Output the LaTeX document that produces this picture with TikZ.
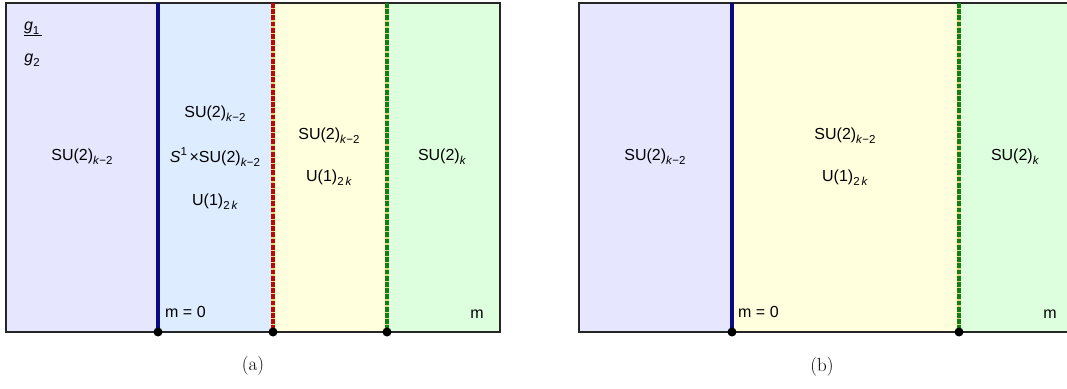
\documentclass[tikz,border=0pt]{standalone}
\usepackage{fontspec}
\setsansfont{Liberation Sans}
\newfontfamily\capfont{Latin Modern Roman}
\definecolor{lav}{RGB}{230,230,255}
\definecolor{lblue}{RGB}{221,237,255}
\definecolor{lyel}{RGB}{255,255,221}
\definecolor{lgrn}{RGB}{221,255,221}
\definecolor{navy}{RGB}{10,10,130}
\definecolor{dred}{RGB}{185,10,10}
\definecolor{dgrn}{RGB}{20,125,20}
\definecolor{gapcol}{RGB}{225,215,120}
\newcommand{\lsub}[1]{\raisebox{-0.25em}{\fontsize{11.5}{12}\selectfont #1}}
\newcommand{\lsup}[1]{\raisebox{0.45em}{\fontsize{11.5}{12}\selectfont #1}}
\newcommand{\SUkm}{SU(2)\lsub{\textit{k}−2}}
\newcommand{\SUk}{SU(2)\lsub{\textit{k}}}
\newcommand{\Uk}{U(1)\lsub{2\,\textit{k}}}
\begin{document}
\begin{tikzpicture}[x=1pt,y=1pt,
  lbl/.style={font=\sffamily\fontsize{16}{19}\selectfont, inner sep=0pt},
  frame/.style={draw=black!85, line width=1.8pt},
  wallsolid/.style={draw=navy, line width=3.2pt},
  wallgap/.style={draw=gapcol, line width=3.2pt},
  wallred/.style={draw=dred, line width=3.2pt, dash pattern=on 4.8pt off 1.4pt},
  wallgrn/.style={draw=dgrn, line width=3.2pt, dash pattern=on 4.8pt off 1.4pt},
  dot/.style={circle, fill=black, inner sep=0pt, minimum size=9pt},
  captxt/.style={font=\capfont\fontsize{19}{22}\selectfont, inner sep=0pt}]
\clip (0,0) rectangle (1067,388);
% ---------- panel (a) ----------
\fill[lav]  (6,56) rectangle (158,385);
\fill[lblue] (158,56) rectangle (273,385);
\fill[lyel] (273,56) rectangle (387,385);
\fill[lgrn] (387,56) rectangle (500,385);
\draw[frame] (6,56) rectangle (500,385);
\coordinate (a1t) at (158,385); \coordinate (a1b) at (158,56);
\coordinate (a2t) at (273,385); \coordinate (a2b) at (273,56);
\coordinate (a3t) at (387,385); \coordinate (a3b) at (387,56);
\draw[wallsolid] (a1t) -- (a1b);
\draw[wallgap] (a2t) -- (a2b);
\draw[wallred] (a2t) -- (a2b);
\draw[wallgap] (a3t) -- (a3b);
\draw[wallgrn] (a3t) -- (a3b);
\node[dot] (ad1) at (a1b) {};
\node[dot] (ad2) at (a2b) {};
\node[dot] (ad3) at (a3b) {};
\node[lbl] (g1) at (33,359) {\underline{\textit{g}\lsub{1}\,}};
\node[lbl] (g2) at (32,328) {\textit{g}\lsub{2}};
\node[lbl] (aL) at (82,231) {\SUkm};
\node[lbl] (aB1) at (215,274) {\SUkm};
\node[lbl] (aB2) at (215,231) {\textit{S}\lsup{1}\,×SU(2)\lsub{\textit{k}−2}};
\node[lbl] (aB3) at (215,186) {\Uk};
\node[lbl] (aY1) at (329,252) {\SUkm};
\node[lbl] (aY2) at (329,210) {\Uk};
\node[lbl] (aG) at (442,231) {\SUk};
\node[lbl, anchor=west] (am0) at (165,76) {m = 0};
\node[lbl] (am) at (477,74) {m};
\node[captxt] (capa) at (253,22) {(a)};
% ---------- panel (b) ----------
\fill[lav]  (579,56) rectangle (732,385);
\fill[lyel] (732,56) rectangle (959,385);
\fill[lgrn] (959,56) rectangle (1080,385);
\draw[frame] (1080,56) -- (579,56) -- (579,385) -- (1080,385);
\coordinate (b1t) at (732,385); \coordinate (b1b) at (732,56);
\coordinate (b2t) at (959,385); \coordinate (b2b) at (959,56);
\draw[wallsolid] (b1t) -- (b1b);
\draw[wallgap] (b2t) -- (b2b);
\draw[wallgrn] (b2t) -- (b2b);
\node[dot] (bd1) at (b1b) {};
\node[dot] (bd2) at (b2b) {};
\node[lbl] (bL) at (655,231) {\SUkm};
\node[lbl] (bY1) at (845,252) {\SUkm};
\node[lbl] (bY2) at (845,210) {\Uk};
\node[lbl] (bG) at (1015,231) {\SUk};
\node[lbl, anchor=west] (bm0) at (738,76) {m = 0};
\node[lbl] (bm) at (1050,74) {m};
\node[captxt] (capb) at (822,21) {(b)};
\end{tikzpicture}
\end{document}
